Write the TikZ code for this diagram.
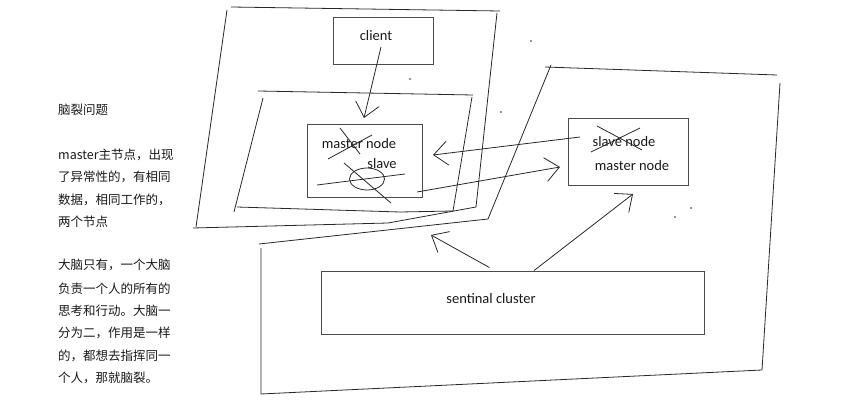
\documentclass[tikz,border=0pt]{standalone}
\usepackage{fontspec}
\setmainfont{Carlito}
\newfontfamily\cjk{Noto Sans CJK SC}
\usepackage{tikz}
\usetikzlibrary{arrows.meta, calc, positioning}
\usepackage{xcolor}
\definecolor{inkgray}{RGB}{40, 40, 40}
\definecolor{boxgray}{RGB}{75, 75, 75}
\definecolor{textblack}{RGB}{25, 25, 25}

\begin{document}
\begin{tikzpicture}[x=1pt, y=-1pt,
    sketch/.style={inkgray, line width=0.8pt},
    box/.style={draw=boxgray, line width=0.9pt, inner sep=0pt},
    nodetext/.style={text=textblack, font=\fontsize{14.5}{17}\selectfont, inner sep=0pt},
    note/.style={text=textblack, font=\cjk\fontsize{12.5}{15}\selectfont,
                 inner sep=0pt, anchor=west},
    sketcharrow/.style={sketch, -{Straight Barb[length=14pt, width=24pt]}},
    speck/.style={fill=inkgray}]
  \useasboundingbox (0,0) rectangle (849,417);
  %---- notes on the left ----------------------------------------------------
  \foreach \y/\t [count=\i] in {110/脑裂问题, 155/master主节点，出现,
      177/了异常性的，有相同, 200/数据，相同工作的，, 222/两个节点,
      265/大脑只有，一个大脑, 289/负责一个人的所有的, 311/思考和行动。大脑一,
      333/分为二，作用是一样, 356/的，都想去指挥同一, 378/个人，那就脑裂。}
    \node[note] (note\i) at (58,\y) {\t};
  %---- hand drawn outlines --------------------------------------------------
  \draw[sketch] (231,7) -- (500,11);
  \draw[sketch] (227,10) -- (196,227);
  \draw[sketch] (497,13) -- (476,207) -- (388,223) -- (193,228);
  \draw[sketch] (258,91) -- (473,95);
  \draw[sketch] (263,98) -- (234,212);
  \draw[sketch] (472,97) -- (453,211) -- (400,212) -- (237,207);
  \draw[sketch] (259,244) -- (488,219) -- (551,65);
  \draw[sketch] (545,67) -- (777,75);
  \draw[sketch] (780,83) -- (762,370) -- (261,394) -- (261,248);
  %---- boxes ----------------------------------------------------------------
  \node[box, minimum width=100pt, minimum height=47pt] (client) at (383,40.5) {};
  \node[nodetext] (clienttext) at (376,36) {client};
  \node[box, minimum width=115pt, minimum height=73pt] (master) at (364.5,160.5) {};
  \node[nodetext] (mastertext) at (359,144) {master node};
  \node[nodetext] (slavetext) at (382,164) {slave};
  \node[box, minimum width=120pt, minimum height=67pt] (slave) at (628,151.5) {};
  \node[nodetext] (oldslave) at (624,142) {slave node};
  \node[nodetext] (newmaster) at (632,166) {master node};
  \node[box, minimum width=383pt, minimum height=63pt] (sentinel) at (512.5,302.5) {};
  \node[nodetext] (sentineltext) at (491,299) {sentinal cluster};
  %---- crossing out -----------------------------------------------------------
  \draw[sketch] (340,128) -- (360,154);
  \draw[sketch] (372,135) -- (328,159);
  \draw[sketch] (317,185) -- (405,174);
  \draw[sketch] (344,163) -- (391,203);
  \draw[sketch] (367,179) ellipse [x radius=17.5, y radius=11];
  \draw[sketch] (597,126) -- (642,150);
  \draw[sketch] (640,128) -- (591,152);
  %---- arrows -----------------------------------------------------------------
  \coordinate (clientout) at (381,47);
  \coordinate (masterin) at (364,118);
  \coordinate (fromslave) at (580,137);
  \coordinate (tomaster) at (433,155);
  \coordinate (frommaster) at (417,192);
  \coordinate (toslave) at (560,167);
  \coordinate (watchold) at (431,235);
  \coordinate (watchnew) at (633,194);
  \draw[sketcharrow] (clientout) -- (masterin);
  \draw[sketcharrow] (fromslave) -- (tomaster);
  \draw[sketcharrow] (frommaster) -- (toslave);
  \draw[sketcharrow] ($(sentinel.north west)!0.44!(sentinel.north east)+(0,-3)$)
    -- (watchold);
  \draw[sketcharrow] ($(sentinel.north west)!0.556!(sentinel.north east)$)
    -- (watchnew);
  %---- stray specks -----------------------------------------------------------
  \foreach \p in {(410,79), (501,112), (531,41), (691,208), (675,217)}
    \fill[speck] \p circle[radius=0.8];
\end{tikzpicture}
\end{document}
